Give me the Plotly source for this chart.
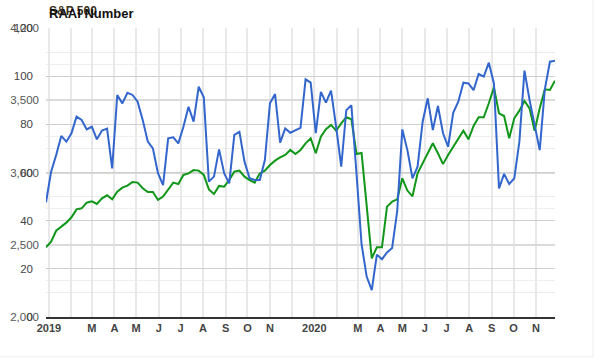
import pandas as pd
import plotly.graph_objects as go

# ---------------- data ----------------
start_date = "2018-12-28"   # first weekly observation
n_weeks = 101

sp500 = [2482, 2521, 2597, 2625, 2653, 2690, 2745, 2752, 2791, 2801,
         2782, 2821, 2842, 2814, 2867, 2895, 2909, 2934, 2930, 2891,
         2865, 2865, 2810, 2833, 2883, 2930, 2920, 2983, 2994, 3017,
         3013, 2983, 2883, 2851, 2907, 2902, 2948, 3006, 3013, 2971,
         2948, 2930, 2994, 3013, 3052, 3082, 3105, 3121, 3156, 3128,
         3156, 3202, 3237, 3133, 3248, 3299, 3329, 3289, 3340, 3382,
         3368, 3128, 3135, 2764, 2406, 2482, 2482, 2764, 2798, 2814,
         2960, 2875, 2835, 2994, 3063, 3133, 3202, 3133, 3058, 3121,
         3178, 3237, 3289, 3230, 3322, 3382, 3382, 3479, 3589, 3410,
         3391, 3237, 3375, 3428, 3495, 3444, 3289, 3444, 3576, 3571,
         3635]

raai = [47.6, 60.3, 67.3, 75.2, 72.8, 76.3, 83.2, 81.8, 77.9, 79.0,
        73.8, 77.4, 78.2, 61.7, 92.2, 88.7, 93.1, 92.2, 89.4, 81.8,
        72.8, 70.0, 59.7, 54.8, 74.2, 74.6, 72.1, 79.0, 87.3, 81.1,
        95.6, 91.2, 56.2, 58.3, 69.6, 59.7, 55.5, 75.6, 76.9, 64.5,
        57.6, 56.9, 56.9, 65.2, 88.7, 92.6, 72.4, 78.3, 76.5, 77.6,
        78.5, 98.7, 97.3, 76.3, 93.5, 89.0, 94.0, 79.0, 62.4, 85.9,
        87.9, 59.7, 30.2, 16.8, 11.2, 25.9, 24.0, 26.8, 28.7, 44.0,
        77.9, 69.3, 57.6, 62.4, 81.1, 90.8, 77.6, 87.6, 76.3, 70.7,
        84.8, 89.4, 97.3, 97.0, 94.2, 100.9, 99.8, 105.6, 97.0, 53.4,
        59.4, 55.2, 57.6, 72.8, 102.3, 90.1, 80.4, 69.3, 94.5, 106.0,
        106.4]

month_ticks = ["2019-01-01", "2019-02-01", "2019-03-01", "2019-04-01", "2019-05-01",
               "2019-06-01", "2019-07-01", "2019-08-01", "2019-09-01", "2019-10-01",
               "2019-11-01", "2019-12-01", "2020-01-01", "2020-02-01", "2020-03-01",
               "2020-04-01", "2020-05-01", "2020-06-01", "2020-07-01", "2020-08-01",
               "2020-09-01", "2020-10-01", "2020-11-01"]
month_labels = ["2019", "", "M", "A", "M", "J", "J", "A", "S", "O", "N", "",
                "2020", "", "M", "A", "M", "J", "J", "A", "S", "O", "N"]
year_lines = ["2019-01-01", "2020-01-01"]

sp_ticks = [2000, 2500, 3000, 3500, 4000]
raai_ticks = [0, 20, 40, 60, 80, 100, 120]

dates = pd.date_range(start_date, periods=n_weeks, freq="7D")

# ---------------- figure ----------------
fig = go.Figure()
fig.add_trace(go.Scatter(x=dates, y=raai, yaxis="y2", mode="lines",
                         line=dict(color="#3366cc", width=2), name="RAAI Number"))
fig.add_trace(go.Scatter(x=dates, y=sp500, yaxis="y", mode="lines",
                         line=dict(color="#109618", width=2), name="S&P 500"))

font_family = "Liberation Sans, Arial, sans-serif"

fig.update_layout(
    width=605, height=360,
    margin=dict(l=46, r=50, t=28, b=43),
    paper_bgcolor="white", plot_bgcolor="white",
    showlegend=False,
    font=dict(family=font_family),
    xaxis=dict(
        type="date",
        range=[dates[0], dates[-1]],
        tickvals=month_ticks, ticktext=month_labels,
        tickfont=dict(family=font_family, size=11, color="#444", weight="bold"),
        showgrid=True, gridcolor="#e8e8e8", gridwidth=1.5,
        showline=True, linecolor="#333", linewidth=2,
        ticks="", zeroline=False,
    ),
    yaxis=dict(
        range=[2000, 4000], tickvals=sp_ticks, tickformat=",",
        tickfont=dict(family=font_family, size=11.5, color="#555"),
        showgrid=True, gridcolor="#dadada", gridwidth=2,
        minor=dict(dtick=250, showgrid=True, gridcolor="#eeeeee", gridwidth=1),
        zeroline=False, showline=False, ticks="",
        ticklabelstandoff=6, automargin=False,
    ),
    yaxis2=dict(
        range=[0, 120], tickvals=raai_ticks,
        overlaying="y", side="left",
        tickfont=dict(family=font_family, size=11.5, color="#444"),
        showgrid=True, gridcolor="#cfcfcf", gridwidth=1,
        minor=dict(dtick=10, showgrid=True, gridcolor="#ececec", gridwidth=1),
        zeroline=False, showline=False, ticks="",
        ticklabelstandoff=12, automargin=False,
    ),
)

shapes = []
for d in year_lines:
    shapes.append(dict(type="line", xref="x", yref="paper", x0=d, x1=d, y0=0, y1=1,
                       line=dict(color="#c8c8c8", width=1.5), layer="below"))
# faint page frame (right and bottom)
shapes.append(dict(type="line", xref="paper", yref="paper", x0=1.0747, x1=1.0747,
                   y0=-0.138, y1=1.1, line=dict(color="#eeeeee", width=1)))
shapes.append(dict(type="line", xref="paper", yref="paper", x0=-0.1, x1=1.0747,
                   y0=-0.138, y1=-0.138, line=dict(color="#eeeeee", width=1)))
fig.update_layout(shapes=shapes)

fig.add_annotation(text="<b>S&P 500</b>", xref="paper", yref="paper", x=0.002, y=1.058,
                   xanchor="left", yanchor="middle", showarrow=False,
                   font=dict(family=font_family, size=12, color="#3a3020"))
fig.add_annotation(text="<b>RAAI Number</b>", xref="paper", yref="paper", x=0.002, y=1.05,
                   xanchor="left", yanchor="middle", showarrow=False,
                   font=dict(family=font_family, size=13, color="#111"))

# remove the browser's default 8px body margin so the figure sits at the page corner
fig.write_html("out.html", config={"displayModeBar": False},
               post_script="document.body.style.margin='0';")
